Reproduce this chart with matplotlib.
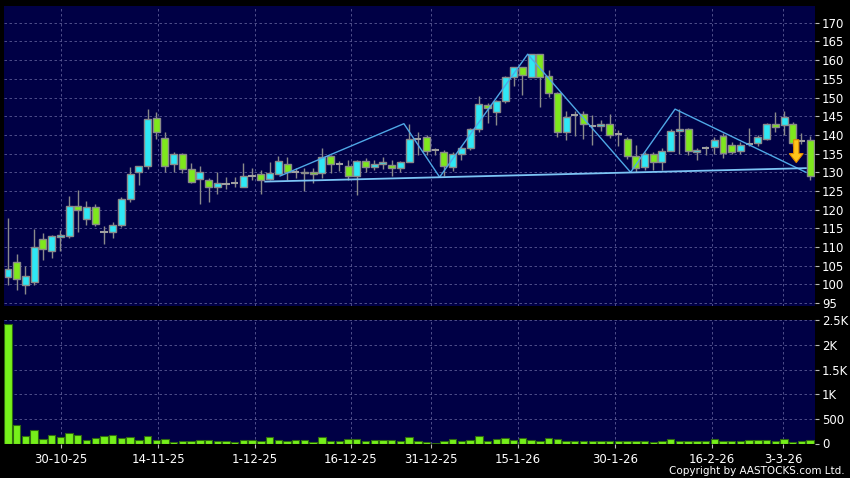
import numpy as np
import matplotlib.pyplot as plt
from matplotlib.patches import Polygon

# daily candles, oldest first
opens = [101.9, 105.9, 99.9, 100.6, 112.2, 109.0, 112.7, 112.9, 121.1, 117.5,
         120.7, 114.0, 114.0, 115.9, 122.8, 130.2, 131.6, 144.5, 139.2, 132.2,
         134.9, 131.0, 128.2, 127.8, 126.1, 126.9, 127.1, 126.1, 129.1, 129.4,
         128.2, 129.6, 132.3, 130.2, 129.9, 130.2, 129.8, 134.4, 132.3, 131.8,
         129.1, 132.9, 131.4, 132.3, 132.0, 131.2, 132.8, 139.0, 139.4, 135.9,
         135.3, 131.4, 134.9, 136.5, 141.6, 148.1, 146.1, 149.0, 155.6, 158.1,
         155.6, 161.6, 155.8, 151.2, 140.9, 145.2, 145.6, 142.3, 142.3, 142.9,
         140.2, 138.9, 134.3, 131.4, 134.9, 132.8, 135.8, 141.0, 141.6, 135.4,
         136.5, 136.8, 139.6, 137.2, 135.6, 137.6, 137.8, 138.9, 142.9, 142.7,
         142.9, 138.3, 138.5]
highs = [117.8, 108.0, 105.0, 114.9, 113.8, 113.3, 114.6, 123.7, 125.3, 122.4,
         121.4, 115.5, 116.6, 123.3, 131.4, 131.8, 146.9, 146.0, 140.9, 135.4,
         135.2, 132.5, 131.8, 128.5, 130.2, 128.7, 128.7, 132.5, 131.1, 130.7,
         132.8, 134.3, 134.1, 131.1, 131.1, 131.1, 136.5, 134.5, 132.9, 133.4,
         133.4, 133.8, 133.4, 134.0, 133.4, 133.0, 143.0, 140.9, 140.0, 136.5,
         136.0, 135.3, 137.0, 141.9, 150.3, 148.5, 149.4, 155.8, 158.3, 158.1,
         161.6, 161.6, 157.4, 151.5, 146.3, 146.3, 146.3, 145.4, 144.0, 145.6,
         141.4, 139.5, 137.4, 135.5, 135.5, 136.5, 141.5, 146.9, 141.8, 136.5,
         137.0, 139.5, 140.5, 138.0, 138.0, 141.8, 140.0, 143.2, 146.0, 146.3,
         143.5, 140.5, 139.6]
lows = [99.7, 98.6, 97.3, 99.9, 106.6, 107.0, 108.9, 112.5, 113.9, 116.0,
        115.6, 110.9, 112.4, 115.4, 122.0, 126.7, 130.9, 138.9, 130.2, 130.0,
        129.8, 127.1, 121.6, 122.1, 124.2, 125.5, 126.1, 126.1, 128.0, 124.2,
        128.0, 129.6, 128.0, 128.5, 125.1, 127.0, 128.5, 129.8, 130.4, 127.8,
        124.0, 130.0, 130.7, 131.0, 128.9, 130.0, 132.8, 134.7, 134.7, 134.7,
        128.9, 130.4, 133.3, 135.9, 140.9, 143.2, 142.7, 148.5, 153.0, 150.7,
        155.6, 147.5, 150.1, 139.5, 138.7, 139.6, 139.0, 137.4, 141.0, 139.2,
        136.9, 133.5, 130.2, 130.5, 130.5, 130.5, 135.6, 135.0, 134.5, 133.4,
        134.5, 135.0, 133.8, 135.0, 135.0, 136.9, 137.0, 138.7, 140.9, 140.0,
        137.0, 137.5, 127.8]
closes = [104.1, 101.4, 102.2, 110.0, 109.5, 113.0, 113.3, 121.1, 119.8, 120.7,
          116.2, 114.0, 115.9, 122.8, 129.6, 131.8, 144.2, 140.9, 131.8, 134.9,
          130.9, 127.4, 130.1, 126.1, 127.1, 126.9, 127.1, 128.9, 129.1, 127.9,
          129.8, 133.1, 130.2, 130.2, 130.2, 129.5, 134.2, 132.3, 132.3, 129.1,
          132.9, 131.4, 132.2, 132.8, 131.1, 132.8, 138.9, 139.0, 135.8, 135.9,
          131.8, 134.9, 136.5, 141.6, 148.3, 147.2, 149.0, 155.6, 158.1, 155.9,
          161.6, 155.6, 151.2, 140.7, 144.8, 145.2, 142.9, 142.3, 143.0, 140.1,
          140.2, 134.3, 131.1, 134.9, 132.8, 135.8, 141.1, 141.6, 135.6, 136.0,
          136.5, 138.5, 135.2, 135.4, 137.4, 137.6, 139.4, 142.9, 142.1, 144.9,
          137.8, 138.3, 129.1]
volumes = [2420, 375, 150, 266, 95, 170, 130, 211, 164, 61,
           109, 143, 164, 102, 130, 75, 157, 68, 89, 27,
           48, 48, 68, 61, 55, 48, 27, 75, 68, 48,
           123, 68, 48, 75, 68, 34, 136, 48, 55, 95,
           82, 48, 68, 68, 61, 55, 130, 48, 38, 20,
           55, 82, 41, 75, 157, 55, 89, 109, 68, 102,
           68, 48, 109, 82, 48, 48, 48, 48, 48, 48,
           41, 41, 48, 55, 27, 55, 89, 41, 41, 41,
           41, 89, 41, 41, 41, 68, 75, 75, 48, 95,
           27, 55, 68]

date_labels = ['30-10-25', '14-11-25', '1-12-25', '16-12-25', '31-12-25',
               '15-1-26', '30-1-26', '16-2-26', '3-3-26']
date_pos = [6.1, 17.2, 28.3, 39.3, 48.5, 58.5, 69.6, 80.7, 88.9]

# drawn pattern (index, price)
zig_x = [31.2, 45.4, 49.5, 59.6, 71.4, 76.5, 91.5]
zig_y = [129.0, 143.0, 128.7, 161.6, 130.0, 146.9, 130.0]
neck_x = [29.5, 91.5]
neck_y = [127.5, 131.1]
arrow_x, arrow_top, arrow_bot = 90.4, 138.7, 132.6

price_ticks = list(range(95, 171, 5))
vol_ticks = [0, 500, 1000, 1500, 2000, 2500]
vol_labels = ['0', '500', '1K', '1.5K', '2K', '2.5K']

bg = '#000045'
up_col = '#2ee8f5'
down_col = '#7ee81c'
edge_col = '#8a8a8a'
grid_kw = dict(color='#5a5a95', lw=0.6, linestyle=(0, (3, 3)))

fig = plt.figure(figsize=(8.5, 4.78), dpi=100, facecolor='black')
ax = fig.add_axes([4/850, 1-306/478, 811/850, 300/478], facecolor=bg)
axv = fig.add_axes([4/850, 1-443.5/478, 811/850, 124/478], facecolor=bg)

x = np.arange(len(opens))
o = np.array(opens); c = np.array(closes)
h = np.array(highs); l = np.array(lows)

ax.vlines(x, l, h, color=edge_col, lw=1, zorder=2)
doji = np.isclose(o, c)
up = (c > o) & ~doji
dn = (c < o) & ~doji
for mask, col in [(up, up_col), (dn, down_col)]:
    ax.bar(x[mask], np.abs(c - o)[mask], bottom=np.minimum(o, c)[mask], width=0.8,
           color=col, edgecolor=edge_col, lw=1, zorder=3)
ax.hlines(o[doji], x[doji] - 0.42, x[doji] + 0.42, color='#a0a0a0', lw=1.5, zorder=3)

ax.plot(zig_x, zig_y, color='#4fa8e6', lw=1, zorder=4)
ax.plot(neck_x, neck_y, color='#7cc4f5', lw=1.3, zorder=4)

hw, sw, hl = 0.8, 0.3, 2.4
pts = [(arrow_x - sw, arrow_top), (arrow_x + sw, arrow_top), (arrow_x + sw, arrow_bot + hl),
       (arrow_x + hw, arrow_bot + hl), (arrow_x, arrow_bot), (arrow_x - hw, arrow_bot + hl),
       (arrow_x - sw, arrow_bot + hl)]
ax.add_patch(Polygon(pts, closed=True, facecolor='#ffc61a', edgecolor='#e08a00', lw=0.8, zorder=5))

axv.bar(x, volumes, width=0.85, color='#76f01a', edgecolor='#2f6a10', lw=0.8, zorder=3)

for a in (ax, axv):
    a.set_xlim(-0.46, 92.55)
    a.set_xticks(date_pos)
    a.grid(True, **grid_kw)
    a.set_axisbelow(True)
    a.yaxis.tick_right()
    for s in a.spines.values():
        s.set_visible(False)
    a.tick_params(axis='y', length=3, color='#bbbbbb', labelcolor='white', labelsize=8.5, pad=2)

ax.set_ylim(94.2, 174.5)
ax.set_yticks(price_ticks)
ax.tick_params(axis='x', length=0, labelbottom=False)

axv.set_ylim(0, 2515)
axv.set_yticks(vol_ticks)
axv.set_yticklabels(vol_labels)
axv.set_xticklabels(date_labels)
axv.tick_params(axis='x', length=3, color='#bbbbbb', labelcolor='white', labelsize=8.5, pad=4)

fig.text(0.994, 0.004, 'Copyright by AASTOCKS.com Ltd.', ha='right', va='bottom',
         color='white', fontsize=7.5)

fig.savefig('out.png', dpi=100, facecolor='black')
